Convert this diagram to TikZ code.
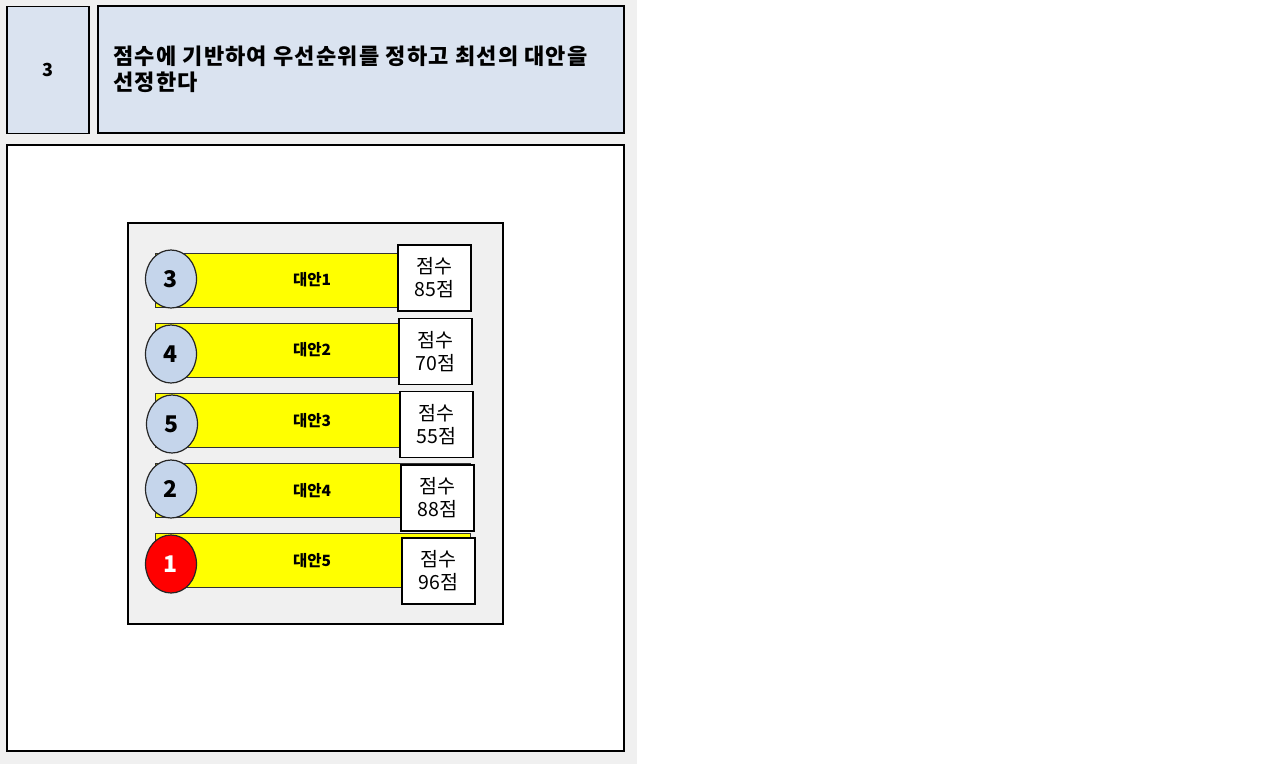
\documentclass[tikz,border=0pt]{standalone}
\usepackage{fontspec}
\setmainfont{Noto Sans CJK KR}
\usetikzlibrary{shapes.geometric}
\definecolor{bgray}{HTML}{F0F0F0}
\definecolor{tblue}{HTML}{DAE3F0}
\definecolor{cblue}{HTML}{C5D5EB}
\definecolor{pyellow}{HTML}{FFFF00}
\definecolor{pred}{HTML}{FF0000}
\tikzset{
  frame/.style={draw=black,line width=1.3pt},
  bar/.style={draw=black!80,line width=1pt,fill=pyellow,minimum width=315pt,minimum height=54pt,inner sep=0pt},
  rank/.style={ellipse,draw=black!85,line width=1.2pt,minimum width=51pt,minimum height=58pt,inner sep=0pt,font=\bfseries\fontsize{23}{25}\selectfont},
  score/.style={draw=black,line width=1.3pt,fill=white,minimum width=73pt,minimum height=66pt,inner sep=0pt,align=center,font=\fontsize{19.5}{23}\selectfont},
  lbl/.style={font=\bfseries\fontsize{15.5}{17}\selectfont,inner sep=0pt}
}
\begin{document}
\begin{tikzpicture}[x=1pt,y=-1pt]
\useasboundingbox (0,0) rectangle (1280,764);
\fill[bgray] (0,0) rectangle (637,764);
\node[frame,fill=tblue,minimum width=82pt,minimum height=127pt,inner sep=0pt,font=\bfseries\fontsize{18}{20}\selectfont] (num) at (48,70) {3};
\node[frame,fill=tblue,minimum width=526pt,minimum height=127pt,inner sep=0pt] (titlebox) at (361,69.5) {};
\node[anchor=north west,align=left,inner sep=0pt,font=\bfseries\fontsize{22}{26}\selectfont\addfontfeature{LetterSpace=5.5}] (title) at (113,46) {점수에 기반하여 우선순위를 정하고 최선의 대안을\\선정한다};
\node[frame,fill=white,minimum width=617pt,minimum height=606pt,inner sep=0pt] (main) at (315.5,448) {};
\node[draw=black,line width=1.2pt,fill=bgray,minimum width=375pt,minimum height=401pt,inner sep=0pt] (inner) at (315.5,423.5) {};
% rows
\node[bar] (b1) at (312.5,280) {};
\node[lbl] (l1) at (312,280) {대안1};
\node[rank,fill=cblue] (c1) at (171,279) {3};
\node[score] (s1) at (434.5,278) {점수\\85점};
\node[bar] (b2) at (312.5,350) {};
\node[lbl] (l2) at (312,350) {대안2};
\node[rank,fill=cblue] (c2) at (171,354) {4};
\node[score] (s2) at (435.5,351.5) {점수\\70점};
\node[bar] (b3) at (312.5,420.5) {};
\node[lbl] (l3) at (312,421) {대안3};
\node[rank,fill=cblue] (c3) at (172,424) {5};
\node[score] (s3) at (436.5,424.5) {점수\\55점};
\node[bar] (b4) at (312.5,490.5) {};
\node[lbl] (l4) at (312,491) {대안4};
\node[rank,fill=cblue] (c4) at (171,489) {2};
\node[score] (s4) at (437.5,498) {점수\\88점};
\node[bar] (b5) at (312.5,560.5) {};
\node[lbl] (l5) at (312,561) {대안5};
\node[rank,fill=pred,text=white] (c5) at (171,564) {1};
\node[score] (s5) at (438.5,571) {점수\\96점};
\end{tikzpicture}
\end{document}
